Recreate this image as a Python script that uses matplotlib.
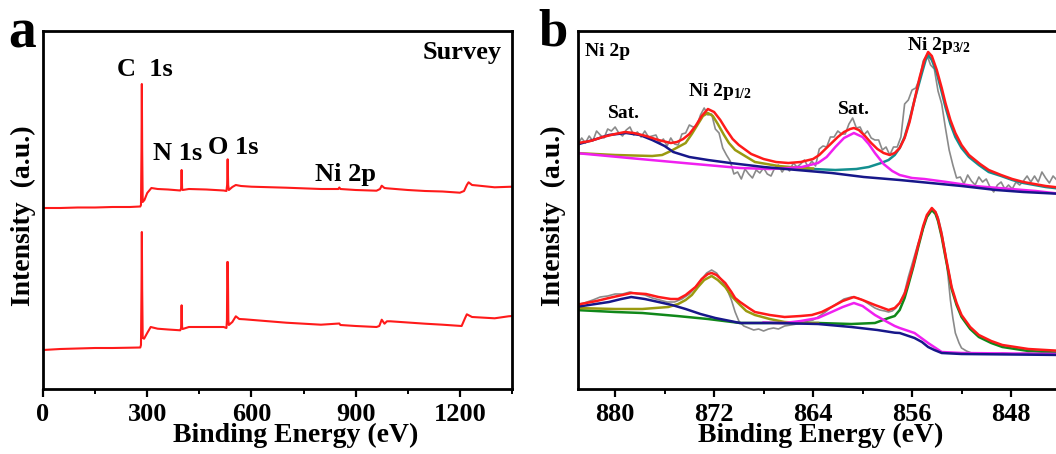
import numpy as np
import matplotlib
matplotlib.use("Agg")
import matplotlib.pyplot as plt
from matplotlib.ticker import MultipleLocator

plt.rcParams['font.family'] = ['Liberation Serif', 'DejaVu Serif']
plt.rcParams['font.weight'] = 'bold'
plt.rcParams['mathtext.fontset'] = 'custom'
plt.rcParams['mathtext.rm'] = 'Liberation Serif:bold'
plt.rcParams['mathtext.bf'] = 'Liberation Serif:bold'
plt.rcParams['mathtext.it'] = 'Liberation Serif:bold'

# ---------------- Panel a: survey spectra (binding energy eV, intensity a.u.) -------------
survey_top_be = [0, 50, 100, 150, 200, 250, 280, 282, 283.5, 284.5, 285.5, 287, 292, 300, 312, 330, 360,
                 395, 397.5, 399, 400.5, 402, 420, 470, 520, 528, 530, 531.5, 533, 535, 545, 555, 570, 600,
                 700, 800, 850, 853, 856, 900, 960, 970, 975, 983, 990, 1050, 1100, 1150, 1200, 1212,
                 1220, 1225, 1235, 1250, 1300, 1350]
survey_top_i = [192, 192, 192.5, 192.5, 193, 193, 193.5, 195, 250, 316, 250, 198, 200, 207, 212, 211, 210.5,
                209.5, 211, 230, 211, 210, 211, 210.5, 209.5, 209, 215, 240.7, 215, 210, 213, 215, 214, 213.3,
                212.3, 211, 211, 212.5, 211, 210, 209.3, 211, 214.3, 212, 211.7, 210, 209, 208.5, 207.3, 209,
                215, 217.7, 215, 214.5, 212.7, 213.3]

survey_bot_be = [0, 50, 100, 150, 200, 250, 280, 282, 283.5, 284.5, 285.5, 287, 291, 300, 310, 330, 360,
                 395, 397.5, 399, 400.5, 402, 420, 470, 520, 528, 529.5, 530.5, 532, 533.5, 535, 545, 555, 565, 580,
                 700, 800, 853, 856, 900, 960, 968, 975, 983, 990, 1000, 1100, 1150, 1205, 1215,
                 1220, 1235, 1300, 1340, 1350]
survey_bot_i = [50, 51, 51.5, 52, 52, 52.3, 52.5, 55, 110, 168, 110, 62, 61.3, 67, 73, 71.3, 70.5,
                69.7, 72, 94.7, 72, 71, 73, 73, 73, 72, 80, 138, 138, 80, 75, 78, 83.7, 81, 80.7,
                77.3, 75.3, 76.5, 75, 74, 73, 74, 80.3, 76.3, 78.7, 78.7, 76.3, 75.3, 74, 82,
                85.7, 83, 81.7, 83.7, 84]

survey_xticks = [0, 300, 600, 900, 1200]

# ---------------- Panel b: Ni 2p high-resolution spectra -------------
# upper spectrum: raw data on a 0.3 eV grid starting at 883.0 eV
top_raw_start, top_raw_step = 883.0, 0.3
top_raw = [256, 262, 257, 264, 259, 269, 265, 262, 271, 269, 273, 267, 264, 270, 273, 265, 268, 263, 269, 263,
           264, 265, 257, 261, 254, 262, 256, 255, 266, 267, 275, 273, 274, 285, 292, 285, 286, 271, 267, 252,
           245, 239, 226, 228, 221, 231, 226, 222, 230, 227, 232, 226, 224, 232, 235, 228, 233, 229, 237, 233,
           236, 240, 233, 239, 234, 251, 254, 253, 263, 263, 269, 266, 266, 276, 282, 272, 273, 265, 269, 262,
           260, 260, 250, 253, 245, 253, 253, 263, 296, 300, 310, 312, 321, 339, 345, 335, 331, 309, 296, 272,
           250, 235, 222, 223, 216, 225, 219, 215, 223, 218, 221, 213, 208, 215, 218, 211, 215, 211, 218, 215,
           219, 224, 218, 224, 218, 228, 222, 217, 224, 220]

top_env_be = [883.0, 882.0, 881.0, 880.0, 879.2, 878.5, 877.5, 876.5, 875.5, 875.0, 874.5, 874.0, 873.5, 873.0,
              872.5, 872.0, 871.5, 871.0, 870.5, 870.0, 869.0, 868.0, 867.0, 866.0, 865.0, 864.0, 863.5, 863.0,
              862.5, 862.0, 861.5, 861.0, 860.7, 860.3, 859.8, 859.3, 858.8, 858.3, 857.8, 857.4, 857.0, 856.6,
              856.2, 855.8, 855.4, 855.0, 854.7, 854.4, 854.0, 853.6, 853.3, 852.9, 852.5, 852.0, 851.4, 850.5,
              849.8, 848.8, 847.9, 847.0, 846.1, 845.2, 843.8]
top_env_i = [257, 259, 263, 266, 268, 267, 264, 260, 257, 258, 261, 266, 274, 284,
             291, 288, 280, 270, 261, 255, 246, 241, 238, 237, 238, 241, 245, 251,
             257, 263, 268, 271, 272, 270, 264, 257, 251, 247, 245, 247, 252, 262,
             278, 300, 322, 340, 348, 344, 330, 312, 297, 280, 267, 255, 245, 236,
             230, 225, 221, 218, 216, 214, 212]

top_p32_be = [866.5, 864.0, 862.2, 860.5, 859.5, 858.5, 857.9, 857.4, 857.0, 856.6, 856.2, 855.8, 855.4, 855.2,
              854.9, 854.7, 854.4, 854.0, 853.6, 853.3, 852.9, 852.5, 852.0, 851.4, 850.6, 849.8, 848.8, 847.9,
              847.0, 846.1, 845.2, 843.8]
top_p32_i = [232, 231, 230, 231, 233, 237, 240, 245, 252, 263, 280, 300, 318, 327,
             340, 345, 340, 327, 308, 293, 276, 263, 252, 243, 235, 228, 224, 220,
             217, 215, 213, 211]

top_sat2_be = [883.2, 878.0, 874.0, 869.9, 867.5, 866.0, 864.9, 863.6, 862.9, 862.2, 861.5, 860.7, 860.0, 859.5,
               859.0, 858.3, 857.6, 857.0, 856.0, 855.0, 853.2, 851.0, 848.0, 846.0, 844.6, 843.8]
top_sat2_i = [247, 241, 236.5, 232, 231, 232, 233, 237, 243, 253, 262, 267, 263, 256,
              247, 236, 229, 225, 222, 221, 218, 214, 211, 209, 207, 206]

top_p12_be = [883.2, 880.0, 877.0, 876.2, 875.5, 874.9, 874.3, 873.8, 873.3, 872.9, 872.5, 872.1, 871.7, 871.2,
              870.8, 870.3, 869.9, 868.7, 866.8, 864.9, 864.0]
top_p12_i = [247, 245, 244, 245, 249, 253, 257, 266, 276, 284, 287, 284, 276, 265,
             257, 250, 247, 238, 234, 232, 231.5]

top_sat1_be = [883.2, 881.5, 880.5, 879.1, 878.0, 877.0, 876.0, 875.3, 874.0, 872.5, 870.7, 868.0, 865.3, 862.5,
               859.9, 857.0, 854.5, 852.0, 849.2, 847.0, 843.8]
top_sat1_i = [255, 261, 265, 267, 265, 260, 254, 248, 243, 240, 237, 233, 230, 227,
              223, 220, 217, 214, 210, 208, 206]

# lower spectrum
bot_raw_be = [883.2, 882.5, 881.8, 881.2, 880.6, 880.0, 879.4, 878.8, 878.2, 877.6, 877.0, 876.4, 875.8, 875.2,
              874.6, 874.0, 873.5, 873.0, 872.6, 872.2, 871.8, 871.4, 871.0, 870.6, 870.3, 870.0, 869.6, 869.2,
              868.8, 868.4, 868.0, 867.6, 867.2, 866.8, 866.3, 865.8, 865.3, 864.9, 864.4, 864.0, 863.6, 863.0,
              862.5, 862.0, 861.5, 860.9, 860.4, 860.0, 859.5, 859.0, 858.6, 858.2, 857.9, 857.6, 857.3, 857.0,
              856.6, 856.3, 855.9, 855.5, 855.2, 854.9, 854.6, 854.4, 854.1, 853.9, 853.6, 853.3, 853.1, 852.9,
              852.7, 852.5, 852.2, 852.0, 851.6, 851.2, 850.5, 849.5, 848.7, 847.8, 846.6, 845.6, 844.4, 843.8]
bot_raw_i = [95, 97, 100, 103, 104, 106, 106, 108, 106, 105, 102, 100, 98, 98,
             101, 106, 113, 121, 127, 130, 127, 120, 112, 100, 88, 79, 74, 72,
             70, 71, 69, 71, 72, 71, 74, 75, 76, 77, 79, 80, 83, 88,
             93, 97, 101, 103, 102, 100, 96, 92, 90, 89, 88, 89, 92, 97,
             108, 123, 140, 157, 167, 180, 188, 190, 188, 183, 168, 147, 125, 100,
             82, 67, 57, 52, 49, 47, 47, 46, 47, 46, 47, 45, 45, 46]

bot_env_be = [883.2, 881.5, 880.5, 878.7, 877.5, 876.5, 875.5, 874.9, 874.3, 873.5, 873.0, 872.5, 872.2, 871.8,
              871.1, 870.6, 870.3, 869.9, 869.2, 868.7, 867.5, 866.3, 865.0, 864.1, 863.3, 862.5, 861.6, 860.7,
              860.0, 859.0, 857.9, 857.4, 857.0, 856.6, 856.3, 855.9, 855.5, 855.1, 854.8, 854.4, 854.1, 853.9,
              853.6, 853.3, 853.0, 852.8, 852.4, 852.0, 851.3, 850.6, 849.6, 848.7, 846.6, 843.8]
bot_env_i = [95, 99, 102, 107, 106, 103, 101, 101, 105, 113, 121, 126, 127, 125,
             117, 108, 102, 98, 92, 88, 85, 83, 84, 85, 88, 93, 99, 103,
             100, 95, 90, 92, 97, 106, 118, 135, 155, 174, 185, 192, 188, 181,
             165, 145, 126, 113, 97, 85, 73, 65, 59, 55, 51, 49]

bot_p32_be = [883.2, 880.0, 877.8, 875.0, 872.5, 869.9, 866.0, 863.6, 860.9, 859.0, 857.9, 857.4, 857.0, 856.6,
              856.3, 855.9, 855.5, 855.1, 854.8, 854.4, 854.1, 853.9, 853.6, 853.3, 853.0, 852.8, 852.4, 852.0,
              851.3, 850.6, 849.6, 848.7, 846.6, 843.8]
bot_p32_i = [90, 88, 87, 84, 81, 77, 77, 77, 76, 77, 82, 84, 90, 102,
             115, 133, 153, 172, 183, 190, 186, 179, 163, 143, 124, 111, 95, 83,
             71, 63, 57, 53, 49, 47]

bot_p12_be = [883.2, 880.0, 877.8, 875.7, 874.9, 874.3, 873.8, 873.3, 872.8, 872.2, 871.7, 871.1, 870.6, 869.9,
              869.4, 868.7, 867.5, 866.3, 865.0, 863.6]
bot_p12_i = [92, 91, 91, 93, 96, 100, 105, 113, 120, 124, 120, 113, 104, 95,
             89, 85, 81, 78, 77, 77]

bot_sat2_be = [868.0, 867.0, 866.3, 865.0, 863.6, 862.5, 861.6, 860.7, 860.0, 859.0, 858.0, 857.4, 857.0, 855.8,
               854.7, 853.6, 852.0, 843.8]
bot_sat2_i = [77.5, 77, 77, 79, 82, 88, 93, 97, 94, 85, 78, 74, 72, 67,
              57, 48, 47, 46]

bot_sat1_be = [883.2, 880.5, 879.5, 878.7, 877.6, 876.5, 875.4, 874.3, 873.1, 871.9, 869.9, 867.0, 863.6, 860.9,
               858.8, 857.4, 857.0, 855.8, 855.2, 854.7, 854.2, 853.6, 852.0, 843.8]
bot_sat1_i = [93, 98, 101, 103, 101, 98, 95, 91, 86, 82, 77, 77, 76, 73,
              70, 67.3, 67, 62, 58, 53, 50, 47, 46, 45]

ni_xticks = [880, 872, 864, 856, 848]

# ---------------- figure ----------------
W, H = 1056, 454
fig = plt.figure(figsize=(W / 100, H / 100), dpi=100)


def fx(px):
    return px / W


def fy(py):
    return 1 - py / H


ax_top, ax_bot = 31, 389
axa = fig.add_axes([fx(43), fy(ax_bot), fx(512) - fx(43), (ax_bot - ax_top) / H])
axb = fig.add_axes([fx(578), fy(ax_bot), fx(1062) - fx(578), (ax_bot - ax_top) / H])

RED = '#ff1a1a'
axa.plot(survey_top_be, survey_top_i, color=RED, lw=1.5)
axa.plot(survey_bot_be, survey_bot_i, color=RED, lw=1.5)
axa.set_xlim(0, 1350)
axa.set_ylim(11, 369)

top_raw_be = [top_raw_start - top_raw_step * k for k in range(len(top_raw))]

GRAY = '#8a8a8a'
NAVY = '#17178a'
MAG = '#f020f0'
OLIVE = '#9a9a10'
TEAL = '#138f8f'
GREEN = '#10881a'
lw_fit = 1.8

axb.plot(top_raw_be, top_raw, color=GRAY, lw=1.2)
axb.plot(top_p32_be, top_p32_i, color=TEAL, lw=lw_fit)
axb.plot(top_p12_be, top_p12_i, color=OLIVE, lw=lw_fit)
axb.plot(top_sat2_be, top_sat2_i, color=MAG, lw=lw_fit)
axb.plot(top_sat1_be, top_sat1_i, color=NAVY, lw=lw_fit)
axb.plot(top_env_be, top_env_i, color=RED, lw=lw_fit)

axb.plot(bot_raw_be, bot_raw_i, color=GRAY, lw=1.2)
axb.plot(bot_p32_be, bot_p32_i, color=GREEN, lw=lw_fit)
axb.plot(bot_p12_be, bot_p12_i, color=OLIVE, lw=lw_fit)
axb.plot(bot_sat2_be, bot_sat2_i, color=MAG, lw=lw_fit)
axb.plot(bot_sat1_be, bot_sat1_i, color=NAVY, lw=lw_fit)
axb.plot(bot_env_be, bot_env_i, color=RED, lw=lw_fit)

axb.set_xlim(883.0, 880 - (1062 - 615) * 8 / 99)
axb.set_ylim(11, 369)

TICK_FS = 19
for ax, minor, ticks in [(axa, 150, survey_xticks), (axb, 4, ni_xticks)]:
    ax.set_xticks(ticks)
    ax.xaxis.set_minor_locator(MultipleLocator(minor))
    ax.set_yticks([])
    ax.tick_params(axis='x', which='major', direction='out', length=6, width=1.6,
                   labelsize=TICK_FS, pad=4, top=False)
    ax.tick_params(axis='x', which='minor', direction='out', length=3.5, width=1.4, top=False)
    for lab in ax.get_xticklabels():
        lab.set_fontweight('bold')
    for sp in ax.spines.values():
        sp.set_linewidth(2.0)

LAB_FS = 20
fig.text(fx(296), fy(435), 'Binding Energy (eV)', ha='center', va='center', fontsize=LAB_FS, fontweight='bold')
fig.text(fx(821), fy(435), 'Binding Energy (eV)', ha='center', va='center', fontsize=LAB_FS, fontweight='bold')
fig.text(fx(23), fy(216), 'Intensity  (a.u.)', ha='center', va='center', rotation=90,
         fontsize=LAB_FS, fontweight='bold')
fig.text(fx(553), fy(216), 'Intensity  (a.u.)', ha='center', va='center', rotation=90,
         fontsize=LAB_FS, fontweight='bold')

fig.text(fx(8), fy(34), 'a', ha='left', va='center', fontsize=40, fontweight='bold')
fig.text(fx(538), fy(33), 'b', ha='left', va='center', fontsize=38, fontweight='bold')

AFS = 19
axa.text(213, 330, 'C  1s', ha='left', va='center', fontsize=AFS, fontweight='bold')
axa.text(317, 247, 'N 1s', ha='left', va='center', fontsize=AFS, fontweight='bold')
axa.text(475, 253, 'O 1s', ha='left', va='center', fontsize=AFS, fontweight='bold')
axa.text(783, 225, 'Ni 2p', ha='left', va='center', fontsize=AFS, fontweight='bold')
axa.text(1321, 347, 'Survey', ha='right', va='center', fontsize=AFS, fontweight='bold')

BFS = 14
axb.text(882.4, 348, 'Ni 2p', ha='left', va='center', fontsize=BFS, fontweight='bold')
axb.text(880.6, 287, 'Sat.', ha='left', va='center', fontsize=BFS, fontweight='bold')
axb.text(874.1, 309, r'Ni 2p$_{1/2}$', ha='left', va='center', fontsize=BFS, fontweight='bold')
axb.text(862.0, 290, 'Sat.', ha='left', va='center', fontsize=BFS, fontweight='bold')
axb.text(856.4, 354, r'Ni 2p$_{3/2}$', ha='left', va='center', fontsize=BFS, fontweight='bold')

fig.savefig('out.png', dpi=100)
